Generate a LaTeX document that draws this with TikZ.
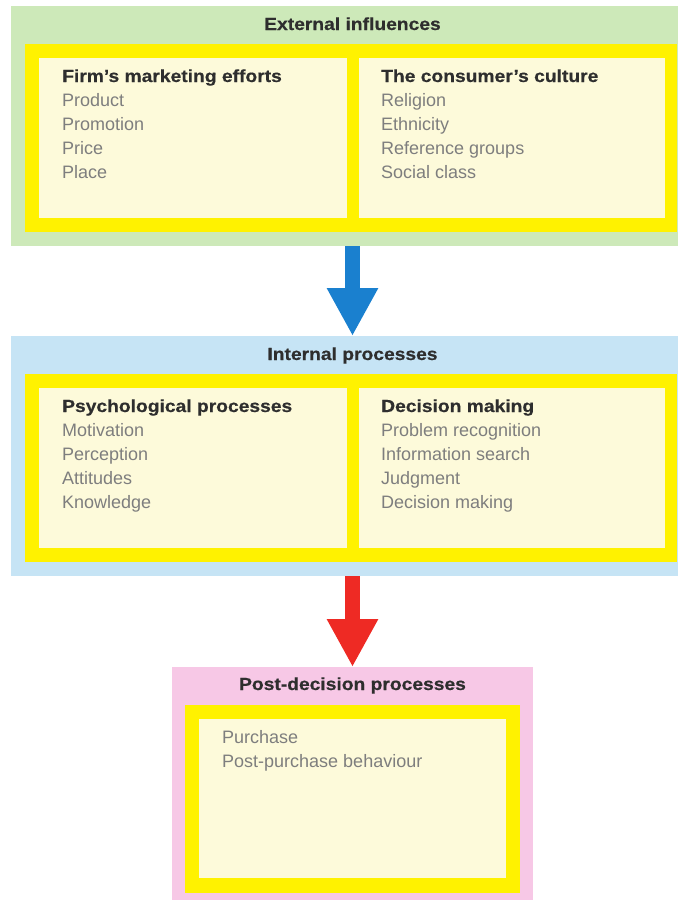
\documentclass[tikz,border=0pt]{standalone}
\usepackage{fontspec}
\setmainfont{Liberation Sans}
\newfontfamily\headfont{Liberation Sans}[FakeStretch=1.1, FakeBold=0.5]
\usetikzlibrary{arrows.meta, positioning}

\definecolor{extgreen}{HTML}{CDE9B9}
\definecolor{intblue}{HTML}{C6E4F5}
\definecolor{postpink}{HTML}{F7C8E6}
\definecolor{frameyellow}{HTML}{FFF200}
\definecolor{panelcream}{HTML}{FDFADA}
\definecolor{arrowblue}{HTML}{1A80CF}
\definecolor{arrowred}{HTML}{EE2A24}
\definecolor{headgrey}{HTML}{2E2E2E}
\definecolor{itemgrey}{HTML}{7E7E7E}

\begin{document}
\begin{tikzpicture}[
    x=1pt, y=-1pt,
    box/.style={anchor=north west, inner sep=0pt, outer sep=0pt},
    title/.style={anchor=base, font=\headfont\fontsize{17.5}{20}\selectfont\bfseries, text=headgrey, inner sep=0pt},
    heading/.style={anchor=base west, font=\headfont\fontsize{17.5}{20}\selectfont\bfseries, text=headgrey, inner sep=0pt},
    item/.style={anchor=base west, font=\fontsize{18}{20}\selectfont, text=itemgrey, inner sep=0pt},
    bigarrow/.style={line width=15pt, -{Triangle[length=48pt, width=48pt]}},
]
  \useasboundingbox (0,0) rectangle (678,900);

  % external influences
  \node[box, fill=extgreen, minimum width=667pt, minimum height=240pt] (ext) at (11,6) {};
  \node[box, fill=frameyellow, minimum width=652pt, minimum height=188pt] (extframe) at (25,44) {};
  \node[box, fill=panelcream, minimum width=308pt, minimum height=160pt] (firm) at (39,58) {};
  \node[box, fill=panelcream, minimum width=306pt, minimum height=160pt] (culture) at (359,58) {};
  \node[title] (exttitle) at (352.5,30) {External influences};
  \node[heading] (firmhead) at (62,82) {Firm’s marketing efforts};
  \foreach \t [count=\i] in {Product, Promotion, Price, Place}
    \node[item] (firm\i) at (62,82+24*\i) {\t};
  \node[heading] (culturehead) at (381,82) {The consumer’s culture};
  \foreach \t [count=\i] in {Religion, Ethnicity, Reference groups, Social class}
    \node[item] (culture\i) at (381,82+24*\i) {\t};

  % internal processes
  \node[box, fill=intblue, minimum width=667pt, minimum height=240pt] (int) at (11,336) {};
  \node[box, fill=frameyellow, minimum width=652pt, minimum height=188pt] (intframe) at (25,374) {};
  \node[box, fill=panelcream, minimum width=308pt, minimum height=160pt] (psych) at (39,388) {};
  \node[box, fill=panelcream, minimum width=306pt, minimum height=160pt] (decision) at (359,388) {};
  \node[title] (inttitle) at (352.5,360) {Internal processes};
  \node[heading] (psychhead) at (62,412) {Psychological processes};
  \foreach \t [count=\i] in {Motivation, Perception, Attitudes, Knowledge}
    \node[item] (psych\i) at (62,412+24*\i) {\t};
  \node[heading] (decisionhead) at (381,412) {Decision making};
  \foreach \t [count=\i] in {Problem recognition, Information search, Judgment, Decision making}
    \node[item] (decision\i) at (381,412+24*\i) {\t};

  % post-decision processes
  \node[box, fill=postpink, minimum width=361pt, minimum height=233pt] (post) at (172,667) {};
  \node[box, fill=frameyellow, minimum width=335pt, minimum height=188pt] (postframe) at (185,705) {};
  \node[box, fill=panelcream, minimum width=307pt, minimum height=159pt] (after) at (199,719) {};
  \node[title] (posttitle) at (352.5,690) {Post-decision processes};
  \foreach \t [count=\i] in {Purchase, Post-purchase behaviour}
    \node[item] (after\i) at (222,719+24*\i) {\t};

  % arrows
  \draw[bigarrow, arrowblue] (ext.south -| post.north) -- (int.north -| post.north);
  \draw[bigarrow, arrowred] (int.south -| post.north) -- (post.north);
\end{tikzpicture}
\end{document}
